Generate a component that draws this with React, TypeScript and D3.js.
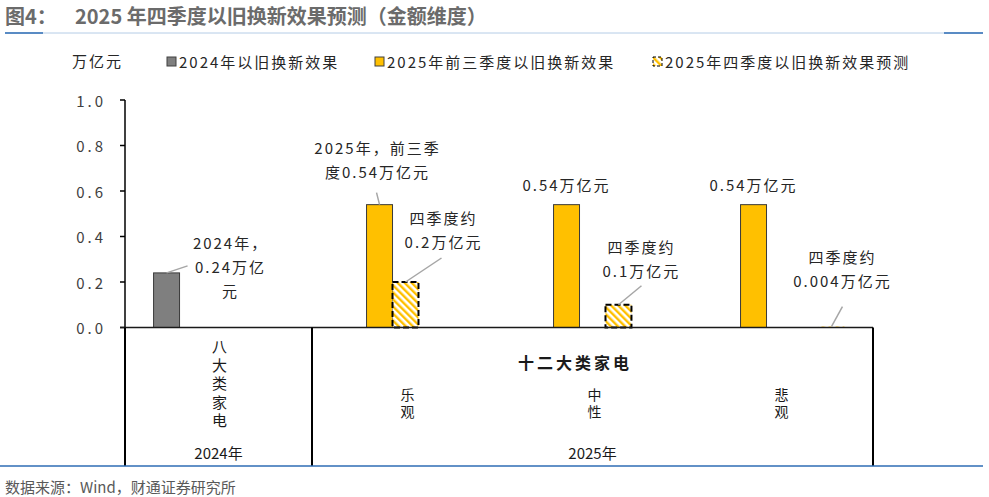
import React from "react";
import * as d3 from "d3";

// chart data
const categories = ["八大类家电", "乐观", "中性", "悲观"];
const scopeLabels = ["八大类家电", "十二大类家电"];
const yearLabels = ["2024年", "2025年"];
const value2024 = [0.24, null, null, null];
const value2025Q1to3 = [null, 0.54, 0.54, 0.54];
const q4Optimistic = [null, 0.2, null, null];
const q4Neutral = [null, null, 0.1, null];
const q4Pessimistic = [null, null, null, 0.004];
const seriesNames = ["2024年以旧换新效果", "2025年前三季度以旧换新效果", "2025年四季度以旧换新效果预测"];
const yTicks = [0, 0.2, 0.4, 0.6, 0.8, 1.0];

const annoGray = ["2024年，", "0.24万亿", "元"];
const annoQ13 = ["2025年，前三季", "度0.54万亿元"];
const annoQ13Short = ["0.54万亿元"];
const annoOpt = ["四季度约", "0.2万亿元"];
const annoMid = ["四季度约", "0.1万亿元"];
const annoPes = ["四季度约", "0.004万亿元"];

const W = 989;
const H = 497;
const FONT = "'Noto Sans CJK SC', 'Noto Sans', sans-serif";

const series = [
  { key: "s0", values: value2024, kind: "gray" },
  { key: "s1", values: value2025Q1to3, kind: "orange" },
  { key: "s2", values: q4Optimistic, kind: "hatch" },
  { key: "s3", values: q4Neutral, kind: "hatch" },
  { key: "s4", values: q4Pessimistic, kind: "hatch" },
];

const App = () => {
  const margin = { left: 125, right: 116, top: 100, bottom: 169.5 };
  const x0 = d3.scaleBand().domain(categories.map((c, i) => String(i))).range([margin.left, W - margin.right]).padding(0);
  const x1 = d3.scaleBand().domain(series.map((s) => s.key)).range([0, x0.bandwidth()]).paddingInner(0).paddingOuter(1.1);
  const y = d3.scaleLinear().domain([0, 1]).range([H - margin.bottom, margin.top]);
  const y0 = y(0);
  const axisBottomY = 466;

  const barX = (si, ci) => (x0(String(ci)) as number) + (x1(series[si].key) as number);
  const barCx = (si, ci) => barX(si, ci) + x1.bandwidth() / 2;

  // annotation placement relative to bar top
  const annotations = [
    { si: 0, ci: 0, lines: annoGray, dx: 64, dy: -30, leader: [21, -7] },
    { si: 1, ci: 1, lines: annoQ13, dx: -2, dy: -57, leader: [-3, -12] },
    { si: 2, ci: 1, lines: annoOpt, dx: 38, dy: -65, leader: [36, -24] },
    { si: 1, ci: 2, lines: annoQ13Short, dx: 0, dy: -20, leader: null },
    { si: 1, ci: 3, lines: annoQ13Short, dx: 0, dy: -20, leader: null },
    { si: 3, ci: 2, lines: annoMid, dx: 23, dy: -58, leader: [23, -19] },
    { si: 4, ci: 3, lines: annoPes, dx: 11, dy: -70, leader: [11, -20] },
  ];

  const fillOf = (kind) => (kind === "gray" ? "#7f7f7f" : kind === "orange" ? "#ffc000" : "url(#hatch)");
  const legendX = [167, 375, 653];
  const legendKinds = ["gray", "orange", "hatch"];

  const catCenter = (ci) => (x0(String(ci)) as number) + x0.bandwidth() / 2;
  const span2025 = [x0("1") as number, W - margin.right];

  return (
    <svg width={W} height={H} style={{ position: "absolute", left: 0, top: 0, background: "#fff" }} fontFamily={FONT}>
      <defs>
        <pattern id="hatch" patternUnits="userSpaceOnUse" width={5} height={5} patternTransform="rotate(-45)">
          <rect width={5} height={5} fill="#fff" />
          <rect width={2.4} height={5} fill="#ffc000" />
        </pattern>
      </defs>

      {/* title */}
      <text x={5} y={24} fontSize={20} fontWeight="bold" fill="#6b6b6b">
        <tspan>图4：</tspan>
        <tspan x={75}>2025 年四季度以旧换新效果预测（金额维度）</tspan>
      </text>
      <line x1={5} x2={983} y1={33} y2={33} stroke="#b4cce6" strokeWidth={1} />
      <line x1={5} x2={43} y1={33} y2={33} stroke="#2e6db4" strokeWidth={1.5} />
      <line x1={944} x2={983} y1={33} y2={33} stroke="#2e6db4" strokeWidth={1.5} />

      {/* unit + legend */}
      <text x={72} y={60} fontSize={15} fill="#262626" letterSpacing={2} dominantBaseline="central">万亿元</text>
      {seriesNames.map((name, i) => (
        <g key={name}>
          <rect x={legendX[i]} y={57} width={9} height={9} fill={fillOf(legendKinds[i])}
            stroke={legendKinds[i] === "hatch" ? "#000" : "#404040"} strokeWidth={1}
            strokeDasharray={legendKinds[i] === "hatch" ? "3 2" : null} />
          <text x={legendX[i] + 12} y={61} fontSize={15} fill="#262626" letterSpacing={2} dominantBaseline="central">{name}</text>
        </g>
      ))}

      {/* y axis */}
      <line x1={margin.left} x2={margin.left} y1={y(1)} y2={y0} stroke="#000" strokeWidth={1.5} />
      {yTicks.map((t) => (
        <g key={t}>
          <line x1={margin.left - 5} x2={margin.left} y1={y(t)} y2={y(t)} stroke="#000" strokeWidth={1.5} />
          <text x={106} y={y(t)} textAnchor="end" fontSize={15} fill="#404040" letterSpacing={3} dominantBaseline="central">
            {d3.format(".1f")(t)}
          </text>
        </g>
      ))}

      {/* bars */}
      {series.map((s, si) =>
        s.values.map((v, ci) => {
          if (v == null) return null;
          const h = y0 - y(v);
          const isHatch = s.kind === "hatch";
          return (
            <rect key={s.key + ci} x={barX(si, ci)} y={y(v)} width={x1.bandwidth()} height={h}
              fill={fillOf(s.kind)}
              stroke={isHatch ? (h < 2 ? "none" : "#000") : "#3a3a3a"}
              strokeWidth={isHatch ? 2 : 1}
              strokeDasharray={isHatch ? "6 3" : null} />
          );
        })
      )}

      {/* category axis */}
      <line x1={margin.left - 5} x2={W - margin.right} y1={y0} y2={y0} stroke="#1a1a1a" strokeWidth={1.5} />
      {[x0("0") as number, x0("1") as number, W - margin.right].map((xx, i) => (
        <line key={i} x1={xx} x2={xx} y1={y0} y2={axisBottomY} stroke="#000" strokeWidth={2} />
      ))}
      <text x={catCenter(0) + 1} y={339} fontSize={15} fill="#1a1a1a" writingMode="vertical-rl"
        letterSpacing={3.5} style={{ writingMode: "vertical-rl" }}>
        {scopeLabels[0]}
      </text>
      <text x={575} y={362} fontSize={16} fontWeight="bold" fill="#1a1a1a" textAnchor="middle" letterSpacing={3} dominantBaseline="central">
        {scopeLabels[1]}
      </text>
      {categories.slice(1).map((c, i) => (
        <text key={c} x={catCenter(i + 1) + 2} y={388} fontSize={14} fill="#1a1a1a" letterSpacing={3}
          writingMode="vertical-rl" style={{ writingMode: "vertical-rl" }}>
          {c}
        </text>
      ))}
      <text x={catCenter(0)} y={452} fontSize={15} fill="#1a1a1a" textAnchor="middle" dominantBaseline="central">{yearLabels[0]}</text>
      <text x={(span2025[0] + span2025[1]) / 2} y={452} fontSize={15} fill="#1a1a1a" textAnchor="middle" dominantBaseline="central">{yearLabels[1]}</text>

      {/* annotations */}
      {annotations.map((a, i) => {
        const v = series[a.si].values[a.ci] as number;
        const bx = barCx(a.si, a.ci);
        const by = y(v);
        return (
          <g key={i}>
            {a.leader && (
              <line x1={bx} y1={by} x2={bx + a.leader[0]} y2={by + a.leader[1]} stroke="#a6a6a6" strokeWidth={1.5} />
            )}
            <text fontSize={15} fill="#262626" textAnchor="middle" letterSpacing={2}>
              {a.lines.map((ln, k) => (
                <tspan key={k} x={bx + a.dx} y={by + a.dy + k * 24} dominantBaseline="central">{ln}</tspan>
              ))}
            </text>
          </g>
        );
      })}

      {/* footer */}
      <line x1={0} x2={983} y1={axisBottomY} y2={axisBottomY} stroke="#2e6db4" strokeWidth={1.5} />
      <text x={5} y={486} fontSize={15} fill="#595959" dominantBaseline="central">数据来源：Wind，财通证券研究所</text>
    </svg>
  );
};

export default App;
